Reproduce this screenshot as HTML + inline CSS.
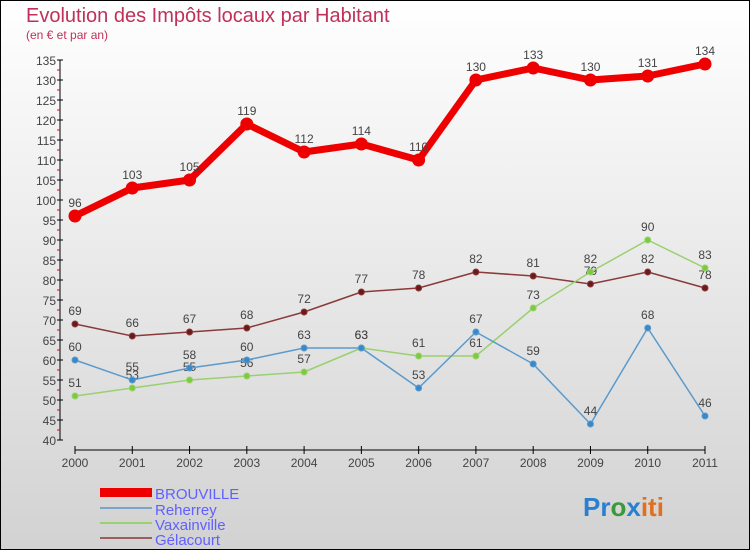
<!DOCTYPE html>
<html><head><meta charset="utf-8"><style>
body{margin:0;width:750px;height:550px;overflow:hidden}
svg{display:block;font-family:"Liberation Sans",sans-serif}
</style></head><body>
<svg width="750" height="550">
<defs><linearGradient id="bg" x1="0" y1="0" x2="0" y2="1"><stop offset="0" stop-color="#ffffff"/><stop offset="1" stop-color="#d2d2d2"/></linearGradient></defs>
<rect x="0.5" y="0.5" width="749" height="549" fill="url(#bg)" stroke="#000"/>
<text x="26" y="22" font-size="20" fill="#c0305a">Evolution des Impôts locaux par Habitant</text>
<text x="26" y="39" font-size="12" fill="#c0305a">(en € et par an)</text>
<g id="axes"></g>
<g id="series"></g>
<g>
<rect x="100" y="488" width="52" height="9" fill="#e00"/>
<text x="155" y="499" font-size="15" fill="#6060ff">BROUVILLE</text>
<line x1="100" y1="508" x2="152" y2="508" stroke="#7aa6cc" stroke-width="2"/>
<text x="155" y="515" font-size="15" fill="#6060ff">Reherrey</text>
<line x1="100" y1="523" x2="152" y2="523" stroke="#99d070" stroke-width="2"/>
<text x="155" y="530" font-size="15" fill="#6060ff">Vaxainville</text>
<line x1="100" y1="538" x2="152" y2="538" stroke="#9a6060" stroke-width="2"/>
<text x="155" y="545" font-size="15" fill="#6060ff">Gélacourt</text>
</g>
<text x="583" y="516" font-size="26" font-weight="bold"><tspan fill="#2a7fd0">Pr</tspan><tspan fill="#3a9a3a">o</tspan><tspan fill="#2a7fd0">x</tspan><tspan fill="#e07020">iti</tspan></text>
</svg>
<script>
const years=[2000,2001,2002,2003,2004,2005,2006,2007,2008,2009,2010,2011];
const brouville=[96,103,105,119,112,114,110,130,133,130,131,134];
const reherrey=[60,55,58,60,63,63,53,67,59,44,68,46];
const vaxainville=[51,53,55,56,57,63,61,61,73,82,90,83];
const gelacourt=[69,66,67,68,72,77,78,82,81,79,82,78];
const yTicks=[40,45,50,55,60,65,70,75,80,85,90,95,100,105,110,115,120,125,130,135];
const NS="http://www.w3.org/2000/svg";
const xs=i=>75+i*(630/(years.length-1));
const ys=v=>440-(v-40)*4;
function mk(p,t,a){const e=document.createElementNS(NS,t);for(const k in a)e.setAttribute(k,a[k]);p.appendChild(e);return e;}
const ax=document.getElementById('axes');
let yl=mk(ax,'line',{x1:60,y1:ys(135),x2:60,y2:ys(40),stroke:'#000'});


yTicks.forEach(v=>{
 mk(ax,'line',{x1:57,y1:ys(v),x2:63,y2:ys(v),stroke:'#000'});
 if(v<135) mk(ax,'line',{x1:57,y1:ys(v+2.5),x2:60,y2:ys(v+2.5),stroke:'#e00'});
 const t=mk(ax,'text',{x:56,y:ys(v)+5,'font-size':12,fill:'#444','text-anchor':'end'});
 t.textContent=v;
 
 
});
let xl=mk(ax,'line',{x1:75,y1:450,x2:705,y2:450,stroke:'#000'});


years.forEach((y,i)=>{
 mk(ax,'line',{x1:xs(i),y1:446,x2:xs(i),y2:454,stroke:'#000'});
 const t=mk(ax,'text',{x:xs(i),y:467,'font-size':12,fill:'#444','text-anchor':'middle'});
 t.textContent=y;
 
 
});
const sg=document.getElementById('series');
function draw(data,name,color,dot,w,r){
 const g=mk(sg,'g',{});
 
 
 mk(g,'polyline',{points:data.map((v,i)=>xs(i)+','+ys(v)).join(' '),fill:'none',stroke:color,'stroke-width':w,'stroke-linejoin':'round'});
 data.forEach((v,i)=>{
  const c=mk(g,'circle',{cx:xs(i),cy:ys(v),r:r,fill:dot,stroke:color,'stroke-width':1});
  
  
  const t=mk(g,'text',{x:xs(i),y:ys(v)-9,'font-size':12,fill:'#444','text-anchor':'middle'});
  t.textContent=v;
  
  
 });
}
draw(gelacourt,'gelacourt','#8a3a3a','#6a1a1a',1.5,3);
draw(vaxainville,'vaxainville','#99d070','#7acc3a',1.5,3);
draw(reherrey,'reherrey','#5a9acc','#3a88cc',1.5,3);
draw(brouville,'brouville','#e00','#e00',7,6);
</script>
</body></html>
